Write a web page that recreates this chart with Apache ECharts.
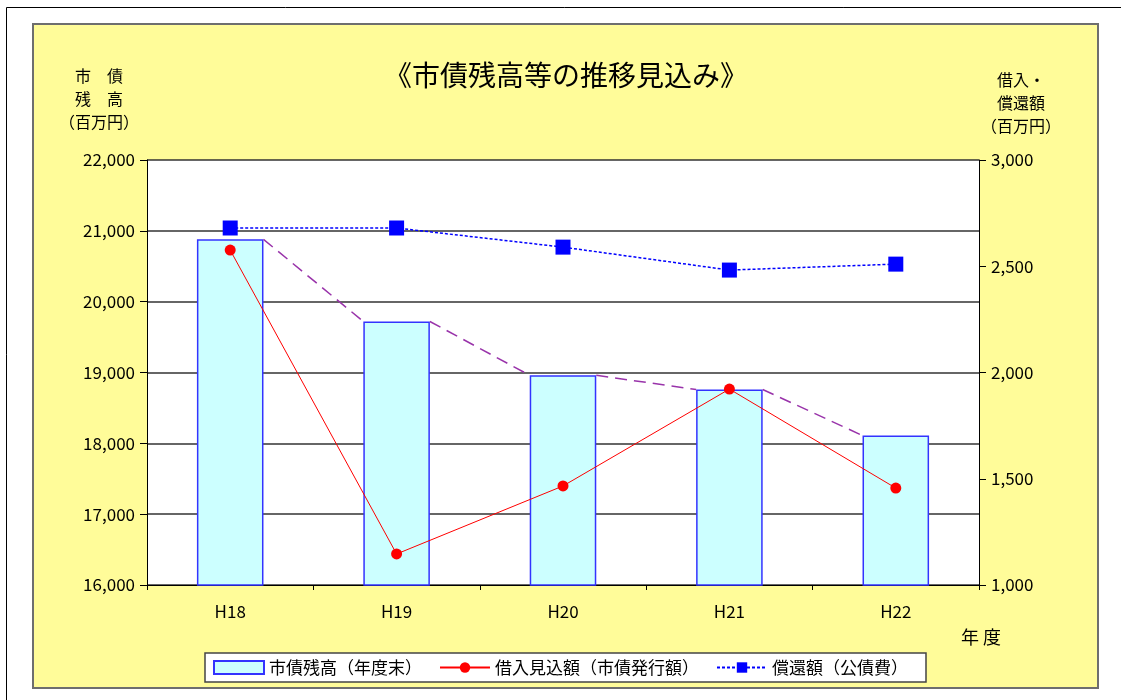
<!DOCTYPE html>
<html>
<head>
<meta charset="utf-8">
<script src="https://cdn.jsdelivr.net/npm/echarts@6/dist/echarts.min.js"></script>
<style>
  html, body { margin: 0; padding: 0; background: #fff; }
  #chart { width: 1121px; height: 700px; }
</style>
</head>
<body>
<div id="chart"></div>
<script>
const categories = ['H18', 'H19', 'H20', 'H21', 'H22'];
const balance = [20880, 19720, 18960, 18760, 18110];   // 市債残高（年度末）
const borrow = [2576, 1146, 1466, 1922, 1456];         // 借入見込額（市債発行額）
const repay = [2680, 2680, 2590, 2482, 2510];          // 償還額（公債費）
const leftTicks = [16000, 22000, 1000];
const rightTicks = [1000, 3000, 500];

const FONT = '"Noto Sans CJK JP", sans-serif';
const fmt = v => v.toLocaleString('en-US');

// series lines between bar tops: [index, value, nextValue]
const seriesLines = balance.slice(0, -1).map((v, i) => [i, v, balance[i + 1]]);

const chart = echarts.init(document.getElementById('chart'));
chart.setOption({
  backgroundColor: '#fff',
  animation: false,
  textStyle: { fontFamily: FONT },
  graphic: [
    { type: 'rect', shape: { x: 6.5, y: 7.5, width: 1130, height: 700 }, style: { fill: '#fff', stroke: '#000', lineWidth: 1 }, z: -10 },
    { type: 'rect', shape: { x: 33, y: 24, width: 1065, height: 664 }, style: { fill: '#FFFC99', stroke: '#6e6e6e', lineWidth: 2 }, z: -5 },
    { type: 'text', x: 566, y: 75, style: { text: '《市債残高等の推移見込み》', font: '28px ' + FONT, fill: '#000', align: 'center', verticalAlign: 'middle' } },
    { type: 'text', x: 99, y: 99, style: { text: '市　債\n残　高\n（百万円）', font: '16px ' + FONT, fill: '#000', align: 'center', verticalAlign: 'middle', lineHeight: 23 } },
    { type: 'text', x: 1021, y: 103, style: { text: '借入・\n償還額\n（百万円）', font: '16px ' + FONT, fill: '#000', align: 'center', verticalAlign: 'middle', lineHeight: 23 } },
    { type: 'text', x: 981, y: 637, style: { text: '年 度', font: '18px ' + FONT, fill: '#000', align: 'center', verticalAlign: 'middle' } }
  ],
  grid: {
    left: 147, right: 142, top: 160, bottom: 115,
    show: true, backgroundColor: '#fff', borderWidth: 0
  },
  legend: {
    left: 205, top: 653,
    backgroundColor: '#fff',
    borderColor: '#444',
    borderWidth: 1.5,
    padding: [6, 18, 6, 8],
    itemGap: 17,
    itemWidth: 50,
    itemHeight: 13,
    textStyle: { fontSize: 17, color: '#000', fontFamily: FONT },
    data: [
      { name: '市債残高（年度末）', icon: 'rect' },
      { name: '借入見込額（市債発行額）' },
      { name: '償還額（公債費）' }
    ]
  },
  xAxis: {
    type: 'category',
    data: categories,
    axisLine: { lineStyle: { color: '#000', width: 1 } },
    axisTick: { show: true, length: 5, lineStyle: { color: '#000' } },
    axisLabel: { color: '#000', fontSize: 17, margin: 18 }
  },
  yAxis: [
    {
      type: 'value',
      min: leftTicks[0], max: leftTicks[1], interval: leftTicks[2],
      axisLine: { show: true, lineStyle: { color: '#000' } },
      axisTick: { show: true, length: 7, lineStyle: { color: '#000' } },
      axisLabel: { color: '#000', fontSize: 17, margin: 12, formatter: fmt },
      splitLine: { show: true, lineStyle: { color: '#333', width: 1.5 } }
    },
    {
      type: 'value',
      position: 'right',
      min: rightTicks[0], max: rightTicks[1], interval: rightTicks[2],
      axisLine: { show: true, lineStyle: { color: '#000' } },
      axisTick: { show: true, length: 7, lineStyle: { color: '#000' } },
      axisLabel: { color: '#000', fontSize: 17, margin: 12, formatter: fmt },
      splitLine: { show: false }
    }
  ],
  series: [
    {
      name: '市債残高（年度末）',
      type: 'bar',
      yAxisIndex: 0,
      barWidth: '40%',
      data: balance,
      itemStyle: { color: '#CCFFFF', borderColor: '#3333FF', borderWidth: 1.5 },
      z: 2
    },
    {
      name: 'seriesLines',
      type: 'custom',
      yAxisIndex: 0,
      data: seriesLines,
      encode: { x: 0, y: 1 },
      renderItem(params, api) {
        const i = api.value(0);
        const half = api.size([1, 0])[0] * 0.2;
        const p1 = api.coord([i, api.value(1)]);
        const p2 = api.coord([i + 1, api.value(2)]);
        return {
          type: 'line',
          shape: { x1: p1[0] + half, y1: p1[1], x2: p2[0] - half, y2: p2[1] },
          style: { stroke: '#9933AA', lineWidth: 1.5, lineDash: [12, 7] }
        };
      },
      z: 3
    },
    {
      name: '借入見込額（市債発行額）',
      type: 'line',
      yAxisIndex: 1,
      data: borrow,
      symbol: 'circle',
      symbolSize: 11,
      lineStyle: { color: '#FF0000', width: 1 },
      itemStyle: { color: '#FF0000' },
      z: 5
    },
    {
      name: '償還額（公債費）',
      type: 'line',
      yAxisIndex: 1,
      data: repay,
      symbol: 'rect',
      symbolSize: 15,
      lineStyle: { color: '#0000FF', width: 1.5, type: [3, 2] },
      itemStyle: { color: '#0000FF' },
      z: 5
    }
  ]
});
</script>
</body>
</html>
